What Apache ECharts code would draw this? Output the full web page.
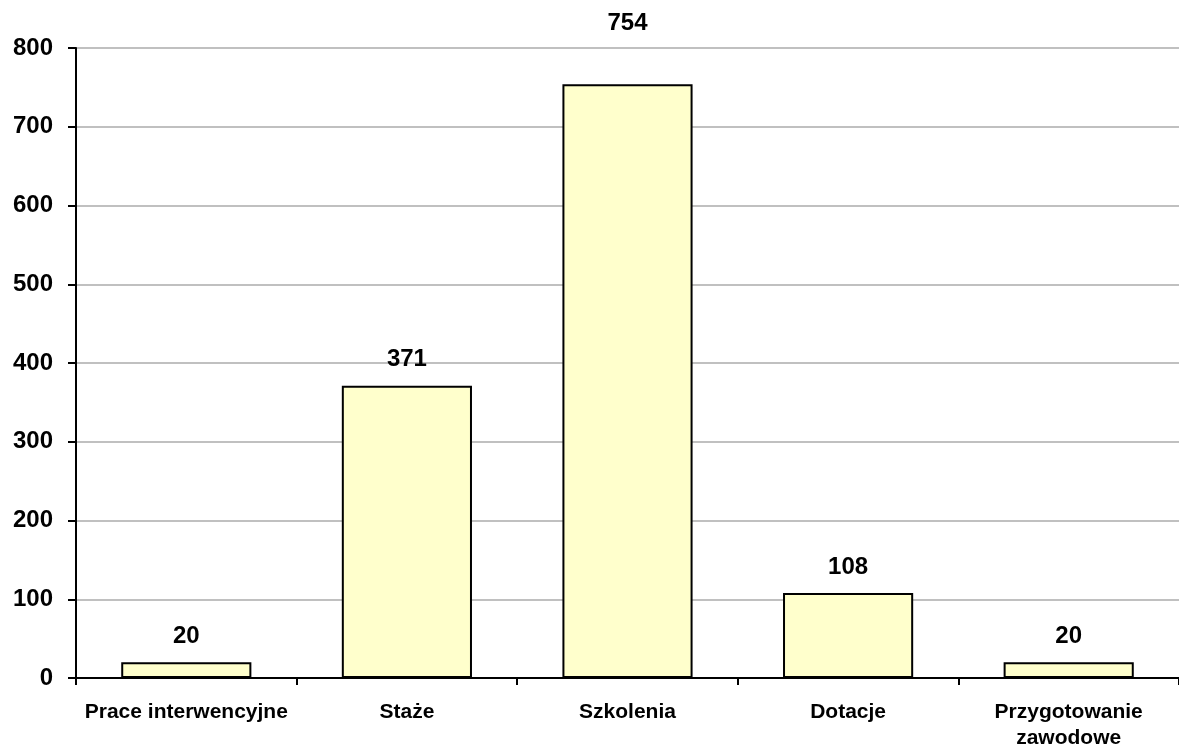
<!DOCTYPE html>
<html><head><meta charset="utf-8">
<script src="https://cdn.jsdelivr.net/npm/echarts@6/dist/echarts.min.js"></script>
<style>html,body{margin:0;padding:0;background:#fff}#c{width:1179px;height:751px}</style>
</head><body><div id="c"></div>
<script>
const categories = ['Prace interwencyjne', 'Staże', 'Szkolenia', 'Dotacje', 'Przygotowanie\nzawodowe'];
const values = [20, 371, 754, 108, 20];
const yTicks = [0, 100, 200, 300, 400, 500, 600, 700, 800];
const labelDistances = [14, 14, 49, 14, 14];

const chart = echarts.init(document.getElementById('c'), null, {renderer: 'canvas'});
chart.setOption({
  animation: false,
  backgroundColor: '#fff',
  grid: {left: 76, right: -2, top: 48, bottom: 69, containLabel: false},
  xAxis: {
    type: 'category',
    data: categories,
    axisLine: {lineStyle: {color: '#000', width: 2}},
    axisTick: {show: true, length: 7, lineStyle: {color: '#000', width: 2}},
    axisLabel: {color: '#000', fontFamily: 'Liberation Sans, Arial', fontWeight: 'bold', fontSize: 21, lineHeight: 26, margin: 21, interval: 0}
  },
  yAxis: {
    type: 'value',
    min: yTicks[0], max: yTicks[yTicks.length - 1], interval: 100,
    axisLine: {show: true, lineStyle: {color: '#000', width: 2}},
    axisTick: {show: true, inside: false, length: 8, lineStyle: {color: '#000', width: 2}},
    axisLabel: {color: '#000', fontFamily: 'Liberation Sans, Arial', fontWeight: 'bold', fontSize: 24, margin: 23},
    splitLine: {lineStyle: {color: '#c0c0c0', width: 2}}
  },
  series: [{
    type: 'bar',
    barWidth: '59%',
    data: values.map((v, i) => ({value: v, label: {distance: labelDistances[i]}})),
    itemStyle: {color: '#FFFFCC', borderColor: '#000', borderWidth: 2},
    label: {show: true, position: 'top', color: '#000', fontFamily: 'Liberation Sans, Arial', fontWeight: 'bold', fontSize: 24}
  }]
});
</script></body></html>
